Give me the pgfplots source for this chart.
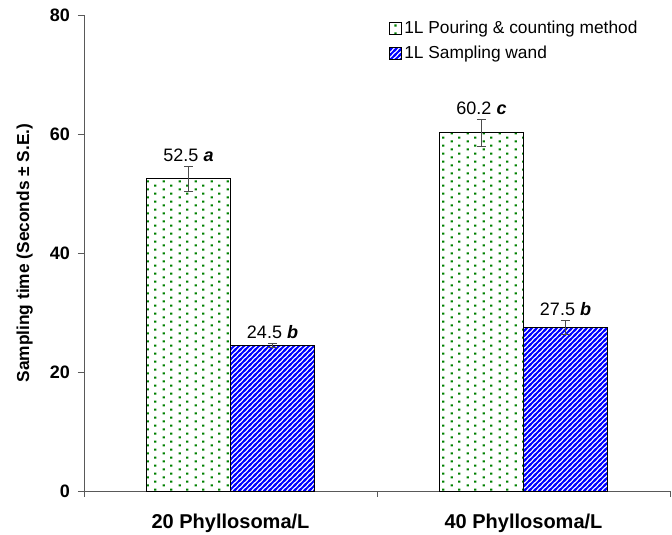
\documentclass[border=0pt]{standalone}
\usepackage{pgfplots}
\usepackage{pgfplotstable}
\pgfplotsset{compat=1.18}
\usepackage{fontspec}
\setmainfont{Liberation Sans}
\usetikzlibrary{patterns}
\definecolor{dotgreen}{RGB}{0,128,0}
\definecolor{stripeblue}{RGB}{0,0,255}

\pgfdeclarepatternformonly{greendots}{\pgfqpoint{0pt}{0pt}}{\pgfqpoint{12pt}{6pt}}{\pgfqpoint{12pt}{6pt}}{%
  \pgfpathrectangle{\pgfqpoint{2.1pt}{0.6pt}}{\pgfqpoint{1.7pt}{1.7pt}}%
  \pgfpathrectangle{\pgfqpoint{8.1pt}{3.6pt}}{\pgfqpoint{1.7pt}{1.7pt}}%
  \pgfusepath{fill}}
\pgfdeclarepatternformonly{bluestripes}{\pgfqpoint{-1pt}{-1pt}}{\pgfqpoint{4.75pt}{4.75pt}}{\pgfqpoint{3.75pt}{3.75pt}}{%
  \pgfsetlinewidth{1.4pt}%
  \pgfpathmoveto{\pgfqpoint{-1pt}{-1pt}}%
  \pgfpathlineto{\pgfqpoint{4.75pt}{4.75pt}}%
  \pgfpathmoveto{\pgfqpoint{-1pt}{2.75pt}}%
  \pgfpathlineto{\pgfqpoint{1pt}{4.75pt}}%
  \pgfpathmoveto{\pgfqpoint{2.75pt}{-1pt}}%
  \pgfpathlineto{\pgfqpoint{4.75pt}{1pt}}%
  \pgfusepath{stroke}}

\pgfplotstableread{
x y err lab
0 52.5 2.1 a
1 60.2 2.3 c
}\pouring
\pgfplotstableread{
x y err lab
0 24.5 0.35 b
1 27.5 1.2 b
}\wand

\begin{document}
\begin{tikzpicture}
\begin{axis}[
  scale only axis, width=439.5pt, height=357pt,
  ybar=0pt, bar width=63pt,
  xmin=-0.5, xmax=1.5, ymin=0, ymax=80,
  axis lines*=left,
  ytick={0,20,40,60,80},
  xtick={-0.5,0.5,1.5}, xticklabels={},
  extra x ticks={0,1},
  extra x tick labels={20 Phyllosoma/L, 40 Phyllosoma/L},
  extra x tick style={major tick length=0pt, xticklabel style={yshift=-14pt}},
  tick align=outside, major tick length=4.5pt,
  tick style={black!65, line width=0.6pt},
  axis line style={black!65, line width=0.6pt},
  ticklabel style={font=\fontsize{13.5}{15}\selectfont\bfseries},
  xticklabel style={font=\fontsize{15}{17}\selectfont\bfseries},
  yticklabel style={xshift=-2.5pt},
  /pgf/number format/assume math mode=true,
  ylabel={Sampling time (Seconds ± S.E.)},
  ylabel style={font=\fontsize{13}{15}\selectfont\bfseries, yshift=6pt},
  legend style={at={(rel axis cs:0.52,1.0)}, anchor=north west, draw=none, fill=none,
    font=\fontsize{13}{15}\selectfont, row sep=4pt, inner xsep=0pt},
  legend cell align=left,
  legend image code/.code={\draw[#1,draw=black,line width=0.5pt] (0pt,-4.5pt) rectangle (9pt,4.5pt);},
  point meta=explicit symbolic,
  visualization depends on={\thisrow{y} \as \myy},
  visualization depends on={\thisrow{err} \as \myerr},
  nodes near coords={\pgfmathprintnumber[fixed,precision=1,fixed zerofill]{\myy}~\textbf{\textit{\pgfplotspointmeta}}},
  nodes near coords style={anchor=south, font=\fontsize{13.5}{15}\selectfont, yshift={\myerr*4.4625pt}},
  clip=false,
]
\addplot[draw=black, line width=0.6pt,
  pattern=greendots, pattern color=dotgreen,
  error bars/.cd, y dir=both, y explicit,
  error bar style={black!70, line width=0.6pt},
  error mark options={rotate=90, mark size=3.5pt, black!70, line width=0.6pt}]
  table[x=x, y=y, y error=err, meta=lab] {\pouring};
\addplot[draw=black, line width=0.6pt,
  pattern=bluestripes, pattern color=stripeblue,
  error bars/.cd, y dir=both, y explicit,
  error bar style={black!70, line width=0.6pt},
  error mark options={rotate=90, mark size=3.5pt, black!70, line width=0.6pt}]
  table[x=x, y=y, y error=err, meta=lab] {\wand};
\legend{1L Pouring \& counting method, 1L Sampling wand}
\end{axis}
\pgfresetboundingbox
\path[use as bounding box] ([shift={(-63pt,-33pt)}]current axis.south west) rectangle ([shift={(1.5pt,11.25pt)}]current axis.north east);
\end{tikzpicture}
\end{document}
